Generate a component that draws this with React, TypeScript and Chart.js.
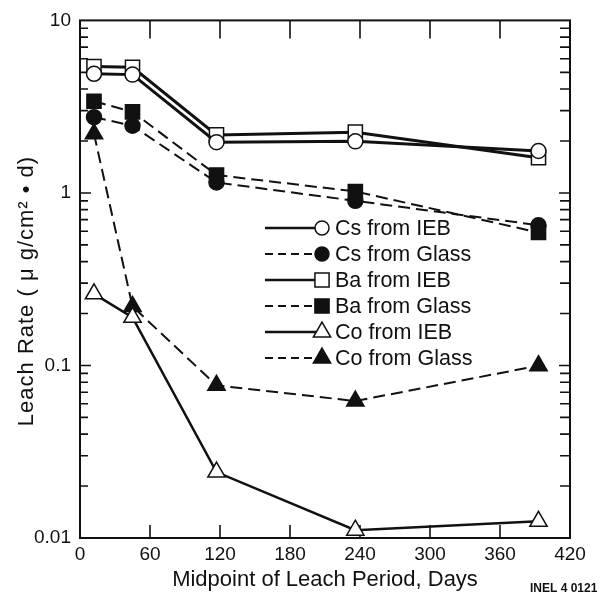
import React, { useEffect, useRef } from "react";
import { Chart, registerables } from "chart.js";

Chart.register(...registerables);

const days = [12, 45, 117, 236, 393];
const csIEB = [4.9, 4.85, 1.97, 1.99, 1.75];
const csGlass = [2.75, 2.45, 1.15, 0.9, 0.65];
const baIEB = [5.4, 5.35, 2.17, 2.25, 1.6];
const baGlass = [3.4, 2.95, 1.27, 1.02, 0.59];
const coIEB = [0.26, 0.19, 0.0241, 0.0111, 0.0125];
const coGlass = [2.2, 0.22, 0.0767, 0.0622, 0.0997];

const seriesLabels = [
  "Cs from IEB",
  "Cs from Glass",
  "Ba from IEB",
  "Ba from Glass",
  "Co from IEB",
  "Co from Glass",
];
const xTicks = [0, 60, 120, 180, 240, 300, 360, 420];
const yTicks = [0.01, 0.1, 1, 10];
const yTickLabels = ["0.01", "0.1", "1", "10"];

const INK = "#111111";
const FONT = "'Liberation Sans', Arial, sans-serif";

function drawMarker(ctx: CanvasRenderingContext2D, style: string, x: number, y: number, r: number, fill: string) {
  ctx.save();
  ctx.beginPath();
  if (style === "circle") {
    ctx.arc(x, y, r, 0, Math.PI * 2);
  } else if (style === "rect") {
    const s = Math.SQRT1_2 * r;
    ctx.rect(x - s, y - s, 2 * s, 2 * s);
  } else {
    const a = (2 * Math.PI) / 3;
    ctx.moveTo(x, y - r);
    ctx.lineTo(x + Math.sin(a) * r, y - Math.cos(a) * r);
    ctx.lineTo(x + Math.sin(2 * a) * r, y - Math.cos(2 * a) * r);
    ctx.closePath();
  }
  ctx.fillStyle = fill;
  ctx.fill();
  ctx.setLineDash([]);
  ctx.lineWidth = 1.5;
  ctx.strokeStyle = INK;
  ctx.stroke();
  ctx.restore();
}

const framePlugin = {
  id: "framePlugin",
  beforeDatasetsDraw(chart: any) {
    const { ctx, chartArea } = chart;
    const { left, right, top, bottom } = chartArea;
    const xs = chart.scales.x;
    const ys = chart.scales.y;
    ctx.save();
    ctx.strokeStyle = INK;
    ctx.lineWidth = 2;
    ctx.setLineDash([]);
    ctx.strokeRect(left, top, right - left, bottom - top);
    ctx.lineWidth = 1.6;
    ctx.beginPath();
    xTicks.forEach((v) => {
      const px = xs.getPixelForValue(v);
      ctx.moveTo(px, bottom);
      ctx.lineTo(px, bottom - 13);
      ctx.moveTo(px, top);
      ctx.lineTo(px, top + 18);
    });
    for (let e = -2; e <= 0; e++) {
      for (let m = 1; m <= 9; m++) {
        const v = m * Math.pow(10, e);
        const py = ys.getPixelForValue(v);
        const lenL = m === 1 ? 11 : 8;
        const lenR = m === 1 ? 11 : 10;
        ctx.moveTo(left, py);
        ctx.lineTo(left + lenL, py);
        ctx.moveTo(right, py);
        ctx.lineTo(right - lenR, py);
      }
    }
    ctx.stroke();
    ctx.restore();
  },
  afterDraw(chart: any) {
    const { ctx } = chart;
    ctx.save();
    ctx.fillStyle = INK;
    // axis titles
    ctx.font = `22px ${FONT}`;
    ctx.textAlign = "center";
    ctx.textBaseline = "middle";
    ctx.fillText("Midpoint of Leach Period, Days", 325, 580);
    ctx.save();
    ctx.translate(27, 291);
    ctx.rotate(-Math.PI / 2);
    try {
      (ctx as any).letterSpacing = "1px";
    } catch (e) {}
    ctx.fillText("Leach Rate ( \u03bc g/cm\u00b2 \u2022 d)", 0, 0);
    ctx.restore();
    ctx.font = `bold 12px ${FONT}`;
    ctx.textAlign = "left";
    ctx.fillText("INEL 4 0121", 530, 589);

    // legend
    const x0 = 265;
    const mx = 322;
    const tx = 335;
    chart.data.datasets.forEach((ds: any, i: number) => {
      const y = 228 + i * 26;
      const dashed = ds.borderDash && ds.borderDash.length;
      ctx.save();
      ctx.strokeStyle = INK;
      ctx.lineWidth = dashed ? 2 : 2.5;
      ctx.setLineDash(dashed ? [8, 5] : []);
      ctx.beginPath();
      ctx.moveTo(x0, y);
      ctx.lineTo(mx - 4, y);
      ctx.stroke();
      ctx.restore();
      drawMarker(ctx, ds.pointStyle, mx, y, ds.pointStyle === "circle" ? 7 : 10, ds.pointBackgroundColor);
      ctx.fillStyle = INK;
      ctx.font = `21.5px ${FONT}`;
      ctx.textAlign = "left";
      ctx.textBaseline = "middle";
      ctx.fillText(ds.label, tx, y + 1);
    });
    ctx.restore();
  },
};

function makeData(vals: number[]) {
  return vals.map((v, i) => ({ x: days[i], y: v }));
}

export default function App() {
  const ref = useRef<HTMLCanvasElement | null>(null);
  useEffect(() => {
    if (!ref.current) return;
    const seriesVals = [csIEB, csGlass, baIEB, baGlass, coIEB, coGlass];
    const styles = ["circle", "circle", "rect", "rect", "triangle", "triangle"];
    const datasets = seriesVals.map((vals, i) => {
      const glass = i % 2 === 1;
      const st = styles[i];
      return {
        label: seriesLabels[i],
        data: makeData(vals),
        borderColor: INK,
        borderWidth: glass ? 2 : i === 4 ? 2.5 : 3,
        borderDash: glass ? [12, 6] : [],
        pointStyle: st,
        pointRadius: st === "circle" ? 7.5 : 10,
        pointBackgroundColor: glass ? INK : "#ffffff",
        pointBorderColor: INK,
        pointBorderWidth: 1.5,
        tension: 0,
        fill: false,
        clip: false,
      };
    });
    const chart = new Chart(ref.current, {
      type: "line",
      data: { datasets },
      options: {
        animation: false,
        responsive: false,
        devicePixelRatio: 1,
        layout: { padding: { top: 12, right: 37, left: 0, bottom: 0 } },
        plugins: { legend: { display: false }, tooltip: { enabled: false } },
        scales: {
          x: {
            type: "linear",
            min: 0,
            max: 420,
            afterBuildTicks: (scale: any) => {
              scale.ticks = xTicks.map((v) => ({ value: v }));
            },
            ticks: {
              padding: 5,
              maxRotation: 0,
              autoSkip: false,
              color: INK,
              font: { family: FONT, size: 19 },
              callback: (v: any) => String(v),
            },
            grid: { display: false, drawTicks: false, drawOnChartArea: false },
            border: { display: false },
            afterFit: (scale: any) => {
              scale.height = 58;
            },
          },
          y: {
            type: "logarithmic",
            min: 0.01,
            max: 10,
            afterBuildTicks: (scale: any) => {
              scale.ticks = yTicks.map((v) => ({ value: v }));
            },
            ticks: {
              padding: 9,
              autoSkip: false,
              color: INK,
              font: { family: FONT, size: 19 },
              callback: (v: any) => {
                const idx = yTicks.findIndex((t) => Math.abs(t - v) < 1e-9);
                return idx >= 0 ? yTickLabels[idx] : "";
              },
            },
            grid: { display: false, drawTicks: false, drawOnChartArea: false },
            border: { display: false },
            afterFit: (scale: any) => {
              scale.width = 80;
            },
          },
        },
      } as any,
      plugins: [framePlugin],
    });
    return () => chart.destroy();
  }, []);
  return (
    <div style={{ position: "absolute", left: 0, top: 0, width: 607, height: 596, background: "#fff" }}>
      <canvas ref={ref} width={607} height={596} style={{ width: 607, height: 596 }} />
    </div>
  );
}
